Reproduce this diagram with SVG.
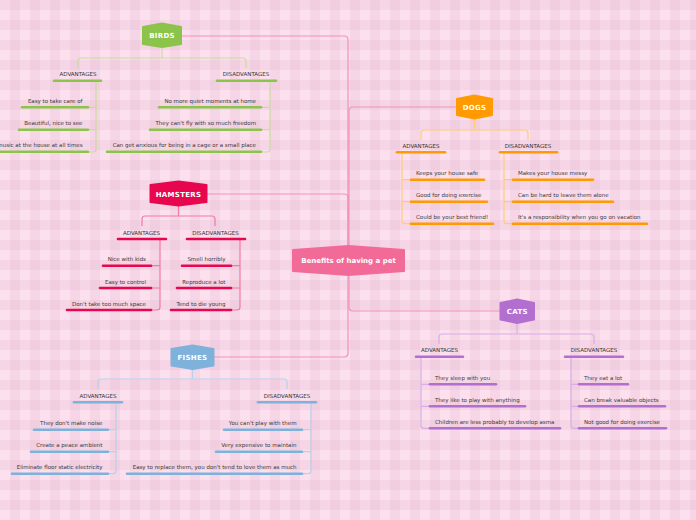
<svg xmlns="http://www.w3.org/2000/svg" width="696" height="520" viewBox="0 0 696 520">
<defs>
<pattern id="ging" width="20" height="20" patternUnits="userSpaceOnUse">
<rect width="20" height="20" fill="#fde0ee"/>
<rect x="10" y="0" width="10" height="20" fill="#c88caf" fill-opacity="0.12"/>
<rect x="0" y="0" width="20" height="10" fill="#c88caf" fill-opacity="0.12"/>
</pattern>
<style>
.main{fill:none;stroke:#f291b9;stroke-width:1.2}
.ln{fill:none;stroke-width:1.2}
.bar{fill:none;stroke-width:2.6;stroke-linecap:round}
.t{font-family:"DejaVu Sans",Verdana,sans-serif;font-size:5.5px;fill:#3a3a3a}
.h{font-family:"DejaVu Sans",Verdana,sans-serif;font-size:5.5px;fill:#333;text-anchor:middle}
.e{text-anchor:end}
.nt{font-family:"DejaVu Sans",Verdana,sans-serif;font-size:7px;font-weight:bold;fill:#fff;text-anchor:middle;letter-spacing:0.3px}
.gB{stroke:#8cc34b}.gBl{stroke:#c9dc9c}
.gD{stroke:#ff9a00}.gDl{stroke:#ffcb7a}
.gH{stroke:#e8064f}.gHl{stroke:#f27aa4}
.gC{stroke:#b26fd0}.gCl{stroke:#d8aee6}
.gF{stroke:#7fb2db}.gFl{stroke:#b6d1ec}
</style>
</defs>
<rect width="696" height="520" fill="url(#ging)"/>

<g id="connectors">
<path class="main" d="M348,245 V40 Q348,36 344,36 H182"/>
<path class="main" d="M348,245 V198 Q348,194 344,194 H207"/>
<path class="main" d="M349,245 V111 Q349,107 353,107 H456"/>
<path class="main" d="M349,276 V307 Q349,311 353,311 H500"/>
<path class="main" d="M348,276 V353 Q348,357 344,357 H214"/>

<g class="gBl">
<path class="ln" d="M162,47 V58 M78,68 V61 Q78,58 81,58 H243 Q246,58 246,61 V68"/>
<path class="ln" d="M96,81 V149 Q96,152 93,152 H88 M96,107.3 H88 M96,129.7 H88"/>
<path class="ln" d="M270,81 V149 Q270,152 267,152 H261 M270,107.3 H261 M270,129.7 H261"/>
</g>
<g class="gDl">
<path class="ln" d="M474.5,119 V130 M421,140 V133 Q421,130 424,130 H525 Q528,130 528,133 V140"/>
<path class="ln" d="M402,153 V220.7 Q402,223.7 405,223.7 H411 M402,179.7 H411 M402,201.7 H411"/>
<path class="ln" d="M504,153 V220.7 Q504,223.7 507,223.7 H513 M504,179.7 H513 M504,201.7 H513"/>
</g>
<g class="gHl">
<path class="ln" d="M178.5,206 V216 M142,226 V219 Q142,216 145,216 H212 Q215,216 215,219 V226"/>
<path class="ln" d="M160,239 V307 Q160,310 157,310 H151 M160,265.7 H151 M160,288 H151"/>
<path class="ln" d="M240,239 V307 Q240,310 237,310 H231 M240,265.7 H231 M240,288 H231"/>
</g>
<g class="gCl">
<path class="ln" d="M517,323 V334 M439,344 V337 Q439,334 442,334 H591 Q594,334 594,337 V344"/>
<path class="ln" d="M421,357 V425.3 Q421,428.3 424,428.3 H430 M421,384.3 H430 M421,406.3 H430"/>
<path class="ln" d="M571,357 V425.3 Q571,428.3 574,428.3 H579 M571,384.3 H579 M571,406.3 H579"/>
</g>
<g class="gFl">
<path class="ln" d="M192.5,369 V379 M98,389 V382 Q98,379 101,379 H284 Q287,379 287,382 V389"/>
<path class="ln" d="M116,402.5 V470.7 Q116,473.7 113,473.7 H108 M116,429.7 H108 M116,451.7 H108"/>
<path class="ln" d="M311,402.5 V470.7 Q311,473.7 308,473.7 H302 M311,429.7 H302 M311,451.7 H302"/>
</g>
</g>

<g id="center">
<path d="M293,250 L348.5,246 L404,250 L404,271 L348.5,275 L293,271 Z" fill="#f26b98" stroke="#f26b98" stroke-width="2" stroke-linejoin="round"/>
<text class="nt" x="348.5" y="263" style="letter-spacing:0">Benefits of having a pet</text>
</g>

<g id="birds">
<path d="M143,27 L162,23.5 L181,27 L181,44 L162,47 L143,44 Z" fill="#8cc34b" stroke="#8cc34b" stroke-width="2" stroke-linejoin="round"/>
<text class="nt" x="162" y="38">BIRDS</text>
</g>
<g id="birds-adv"><text class="h" x="78" y="76">ADVANTAGES</text><path class="bar gB" d="M54,80.7 H101"/></g>
<g id="birds-dis"><text class="h" x="246" y="76">DISADVANTAGES</text><path class="bar gB" d="M217,80.7 H276"/></g>
<g id="birds-a1"><text class="t e" x="82.5" y="103">Easy to take care of</text><path class="bar gB" d="M22,107.3 H88"/></g>
<g id="birds-a2"><text class="t e" x="82.5" y="125.4">Beautiful, nice to see</text><path class="bar gB" d="M19,129.7 H88"/></g>
<g id="birds-a3"><text class="t e" x="82.5" y="147.4">music at the house at all times</text><path class="bar gB" d="M0,151.7 H88"/></g>
<g id="birds-d1"><text class="t e" x="256" y="103">No more quiet moments at home</text><path class="bar gB" d="M159,107.3 H261"/></g>
<g id="birds-d2"><text class="t e" x="256" y="125.4">They can't fly with so much freedom</text><path class="bar gB" d="M150,129.7 H261"/></g>
<g id="birds-d3"><text class="t e" x="256" y="147.4">Can get anxious for being in a cage or a small place</text><path class="bar gB" d="M107,151.7 H261"/></g>

<g id="dogs">
<path d="M457,99 L474.5,95.5 L492,99 L492,115 L474.5,118.5 L457,115 Z" fill="#ff9a00" stroke="#ff9a00" stroke-width="2" stroke-linejoin="round"/>
<text class="nt" x="474.5" y="109.5">DOGS</text>
</g>
<g id="dogs-adv"><text class="h" x="421" y="148">ADVANTAGES</text><path class="bar gD" d="M397,152.3 H445"/></g>
<g id="dogs-dis"><text class="h" x="528" y="148">DISADVANTAGES</text><path class="bar gD" d="M500,152.3 H557"/></g>
<g id="dogs-a1"><text class="t" x="416" y="175.4">Keeps your house safe</text><path class="bar gD" d="M411,179.7 H484"/></g>
<g id="dogs-a2"><text class="t" x="416" y="197.4">Good for doing exercise</text><path class="bar gD" d="M411,201.7 H487"/></g>
<g id="dogs-a3"><text class="t" x="416" y="219.4">Could be your best friend!</text><path class="bar gD" d="M411,223.7 H493"/></g>
<g id="dogs-d1"><text class="t" x="518" y="175.4">Makes your house messy</text><path class="bar gD" d="M513,179.7 H593"/></g>
<g id="dogs-d2"><text class="t" x="518" y="197.4">Can be hard to leave them alone</text><path class="bar gD" d="M513,201.7 H613"/></g>
<g id="dogs-d3"><text class="t" x="518" y="219.4">It's a responsibility when you go on vacation</text><path class="bar gD" d="M513,223.7 H647"/></g>

<g id="hamsters">
<path d="M150.5,185 L178.5,181.5 L206.5,185 L206.5,202 L178.5,205.5 L150.5,202 Z" fill="#e8064f" stroke="#e8064f" stroke-width="2" stroke-linejoin="round"/>
<text class="nt" x="178.5" y="196.5">HAMSTERS</text>
</g>
<g id="hamsters-adv"><text class="h" x="141.5" y="234.5">ADVANTAGES</text><path class="bar gH" d="M118,239 H166"/></g>
<g id="hamsters-dis"><text class="h" x="215.5" y="234.5">DISADVANTAGES</text><path class="bar gH" d="M187,239 H245"/></g>
<g id="hamsters-a1"><text class="t e" x="146" y="261.4">Nice with kids</text><path class="bar gH" d="M103,265.7 H151"/></g>
<g id="hamsters-a2"><text class="t e" x="146" y="283.7">Easy to control</text><path class="bar gH" d="M100,288 H151"/></g>
<g id="hamsters-a3"><text class="t e" x="146" y="305.7">Don't take too much space</text><path class="bar gH" d="M67,310 H151"/></g>
<g id="hamsters-d1"><text class="t e" x="225.5" y="261.4">Smell horribly</text><path class="bar gH" d="M182,265.7 H231"/></g>
<g id="hamsters-d2"><text class="t e" x="225.5" y="283.7">Reproduce a lot</text><path class="bar gH" d="M177,288 H231"/></g>
<g id="hamsters-d3"><text class="t e" x="225.5" y="305.7">Tend to die young</text><path class="bar gH" d="M171,310 H231"/></g>

<g id="cats">
<path d="M500.5,303 L517,299.5 L534,303 L534,319.5 L517,323 L500.5,319.5 Z" fill="#b26fd0" stroke="#b26fd0" stroke-width="2" stroke-linejoin="round"/>
<text class="nt" x="517.3" y="314">CATS</text>
</g>
<g id="cats-adv"><text class="h" x="439.5" y="352.3">ADVANTAGES</text><path class="bar gC" d="M416,356.7 H463"/></g>
<g id="cats-dis"><text class="h" x="594" y="352.3">DISADVANTAGES</text><path class="bar gC" d="M565,356.7 H623"/></g>
<g id="cats-a1"><text class="t" x="435" y="380">They sleep with you</text><path class="bar gC" d="M430,384.3 H496"/></g>
<g id="cats-a2"><text class="t" x="435" y="402">They like to play with anything</text><path class="bar gC" d="M430,406.3 H525"/></g>
<g id="cats-a3"><text class="t" x="435" y="424">Children are less probably to develop asma</text><path class="bar gC" d="M430,428.3 H560"/></g>
<g id="cats-d1"><text class="t" x="584" y="380">They eat a lot</text><path class="bar gC" d="M579,384.3 H628"/></g>
<g id="cats-d2"><text class="t" x="584" y="402">Can break valuable objects</text><path class="bar gC" d="M579,406.3 H665"/></g>
<g id="cats-d3"><text class="t" x="584" y="424">Not good for doing exercise</text><path class="bar gC" d="M579,428.3 H666"/></g>

<g id="fishes">
<path d="M171.5,349 L192.5,345.5 L213.5,349 L213.5,365.5 L192.5,369 L171.5,365.5 Z" fill="#7fb2db" stroke="#7fb2db" stroke-width="2" stroke-linejoin="round"/>
<text class="nt" x="192.5" y="359.5">FISHES</text>
</g>
<g id="fishes-adv"><text class="h" x="98" y="398">ADVANTAGES</text><path class="bar gF" d="M74,402.3 H122"/></g>
<g id="fishes-dis"><text class="h" x="287" y="398">DISADVANTAGES</text><path class="bar gF" d="M258,402.3 H316"/></g>
<g id="fishes-a1"><text class="t e" x="102.5" y="425.4">They don't make noise</text><path class="bar gF" d="M34,429.7 H108"/></g>
<g id="fishes-a2"><text class="t e" x="102.5" y="447.4">Create a peace ambient</text><path class="bar gF" d="M31,451.7 H108"/></g>
<g id="fishes-a3"><text class="t e" x="102.5" y="469.4">Eliminate floor static electricity</text><path class="bar gF" d="M12,473.7 H108"/></g>
<g id="fishes-d1"><text class="t e" x="296.5" y="425.4">You can't play with them</text><path class="bar gF" d="M224,429.7 H302"/></g>
<g id="fishes-d2"><text class="t e" x="296.5" y="447.4">Very expensive to maintain</text><path class="bar gF" d="M216,451.7 H302"/></g>
<g id="fishes-d3"><text class="t e" x="296.5" y="469.4">Easy to replace them, you don't tend to love them as much</text><path class="bar gF" d="M127,473.7 H302"/></g>
</svg>
